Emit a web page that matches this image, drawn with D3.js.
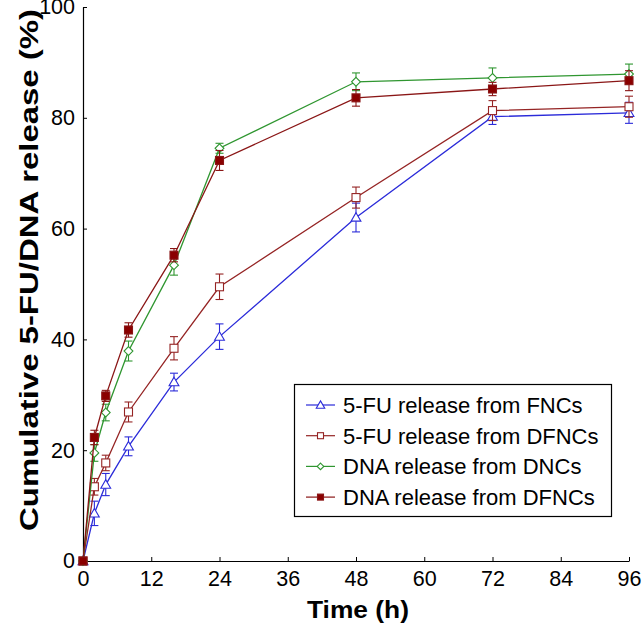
<!DOCTYPE html>
<html><head><meta charset="utf-8">
<script src="https://cdn.jsdelivr.net/npm/d3@7"></script>
<style>body{margin:0;background:#fff}svg{display:block}text{font-family:Arial,"Liberation Sans",sans-serif}</style>
</head><body>
<svg id="c" width="642" height="630"></svg>
<script>
const times = [0, 2, 4, 8, 16, 24, 48, 72, 96];
const fuFNCs = [0, 8.6, 13.8, 20.7, 32.3, 40.5, 62.0, 80.2, 80.9];
const fuFNCsErr = [0, 2.2, 2.0, 1.7, 1.6, 2.3, 2.6, 1.4, 1.9];
const fuDFNCs = [0, 13.4, 17.7, 26.9, 38.4, 49.5, 65.6, 81.3, 82.0];
const fuDFNCsErr = [0, 1.5, 1.4, 1.8, 2.1, 2.3, 1.9, 1.8, 1.9];
const dnaDNCs = [0, 19.5, 26.8, 37.9, 53.4, 74.5, 86.5, 87.2, 87.9];
const dnaDNCsErr = [0, 1.5, 1.5, 1.8, 1.8, 0.9, 1.6, 1.8, 1.8];
const dnaDFNCs = [0, 22.3, 29.8, 41.7, 55.2, 72.3, 83.6, 85.2, 86.7];
const dnaDFNCsErr = [0, 1.3, 1.0, 1.3, 1.2, 1.8, 1.5, 1.2, 1.8];
const seriesNames = ["5-FU release from FNCs", "5-FU release from DFNCs", "DNA release from DNCs", "DNA release from DFNCs"];
const xTicks = [0, 12, 24, 36, 48, 60, 72, 84, 96];
const yTicks = [0, 20, 40, 60, 80, 100];

const series = [
  {name: seriesNames[0], v: fuFNCs, e: fuFNCsErr, color: "#2b2bd9", sym: "tri", fill: "#fff"},
  {name: seriesNames[1], v: fuDFNCs, e: fuDFNCsErr, color: "#952424", sym: "sq", fill: "#fff"},
  {name: seriesNames[2], v: dnaDNCs, e: dnaDNCsErr, color: "#2f9630", sym: "dia", fill: "#fff"},
  {name: seriesNames[3], v: dnaDFNCs, e: dnaDFNCsErr, color: "#8a1616", sym: "sq", fill: "#8a0000"}
];

const svg = d3.select("#c");
const x = d3.scaleLinear().domain([0, 96]).range([83, 629]);
const y = d3.scaleLinear().domain([0, 100]).range([561, 7]);

// axes
const xAxis = svg.append("g").attr("transform", `translate(0,${y(0)})`)
  .call(d3.axisBottom(x).tickValues(xTicks).tickSizeInner(-4).tickSizeOuter(0).tickPadding(10));
const yAxis = svg.append("g").attr("transform", `translate(${x(0)},0)`)
  .call(d3.axisLeft(y).tickValues(yTicks).tickSizeInner(-4).tickSizeOuter(0).tickPadding(8));
[xAxis, yAxis].forEach(a => {
  a.select(".domain").attr("stroke", "#000").attr("stroke-width", 1.2);
  a.selectAll(".tick line").attr("stroke", "#000").attr("stroke-width", 1);
  a.selectAll(".tick text").attr("font-size", 21.5).attr("fill", "#000").attr("font-family", "Arial, 'Liberation Sans', sans-serif");
});
xAxis.selectAll(".tick text").attr("dy", "0.71em").attr("y", 10);
yAxis.selectAll(".tick text").attr("x", -8);

function marker(g, sym, cx, cy, color, fill, s) {
  if (sym === "tri") {
    g.append("path").attr("d", d3.symbol(d3.symbolTriangle, s * 5.2)())
      .attr("transform", `translate(${cx},${cy + 0.8})`).attr("fill", fill).attr("stroke", color).attr("stroke-width", 1.1);
  } else if (sym === "sq") {
    g.append("rect").attr("x", cx - s / 2).attr("y", cy - s / 2).attr("width", s).attr("height", s)
      .attr("fill", fill).attr("stroke", color).attr("stroke-width", 1.1);
  } else {
    const d = s * 0.55;
    g.append("path").attr("d", `M${cx},${cy - d}L${cx + d},${cy}L${cx},${cy + d}L${cx - d},${cy}Z`)
      .attr("fill", fill).attr("stroke", color).attr("stroke-width", 1.1);
  }
}

const line = d3.line().x((d, i) => x(times[i])).y(d => y(d));
series.forEach(s => {
  const g = svg.append("g");
  g.append("path").datum(s.v).attr("d", line).attr("fill", "none").attr("stroke", s.color).attr("stroke-width", 1.3);
  s.v.forEach((v, i) => {
    if (s.e[i] > 0) {
      const cx = x(times[i]), y1 = y(v + s.e[i]), y2 = y(v - s.e[i]);
      g.append("line").attr("x1", cx).attr("x2", cx).attr("y1", y1).attr("y2", y2).attr("stroke", s.color).attr("stroke-width", 1.1);
      g.append("line").attr("x1", cx - 4).attr("x2", cx + 4).attr("y1", y1).attr("y2", y1).attr("stroke", s.color).attr("stroke-width", 1.1);
      g.append("line").attr("x1", cx - 4).attr("x2", cx + 4).attr("y1", y2).attr("y2", y2).attr("stroke", s.color).attr("stroke-width", 1.1);
    }
  });
  s.v.forEach((v, i) => marker(g, s.sym, x(times[i]), y(v), s.color, s.fill, 8));
});

// legend
const lg = svg.append("g");
lg.append("rect").attr("x", 294.5).attr("y", 384.5).attr("width", 317).attr("height", 132)
  .attr("fill", "#fff").attr("stroke", "#000").attr("stroke-width", 1.2);
series.forEach((s, i) => {
  const cy = 405 + i * 30.7;
  lg.append("line").attr("x1", 306).attr("x2", 335).attr("y1", cy).attr("y2", cy).attr("stroke", s.color).attr("stroke-width", 1.2);
  marker(lg, s.sym, 320.5, cy, s.color, s.fill, 6);
  lg.append("text").attr("x", 343).attr("y", cy).attr("dy", "0.36em").attr("font-size", 22).attr("fill", "#000").text(s.name);
});

// titles
svg.append("text").attr("x", 358).attr("y", 618).attr("text-anchor", "middle").attr("font-size", 24).attr("font-weight", "bold")
  .attr("textLength", 102).attr("lengthAdjust", "spacingAndGlyphs").text("Time (h)");
svg.append("text").attr("transform", "translate(38,270) rotate(-90)").attr("text-anchor", "middle").attr("font-size", 26).attr("font-weight", "bold")
  .attr("textLength", 522).attr("lengthAdjust", "spacingAndGlyphs").text("Cumulative 5-FU/DNA release (%)");
</script>
</body></html>
